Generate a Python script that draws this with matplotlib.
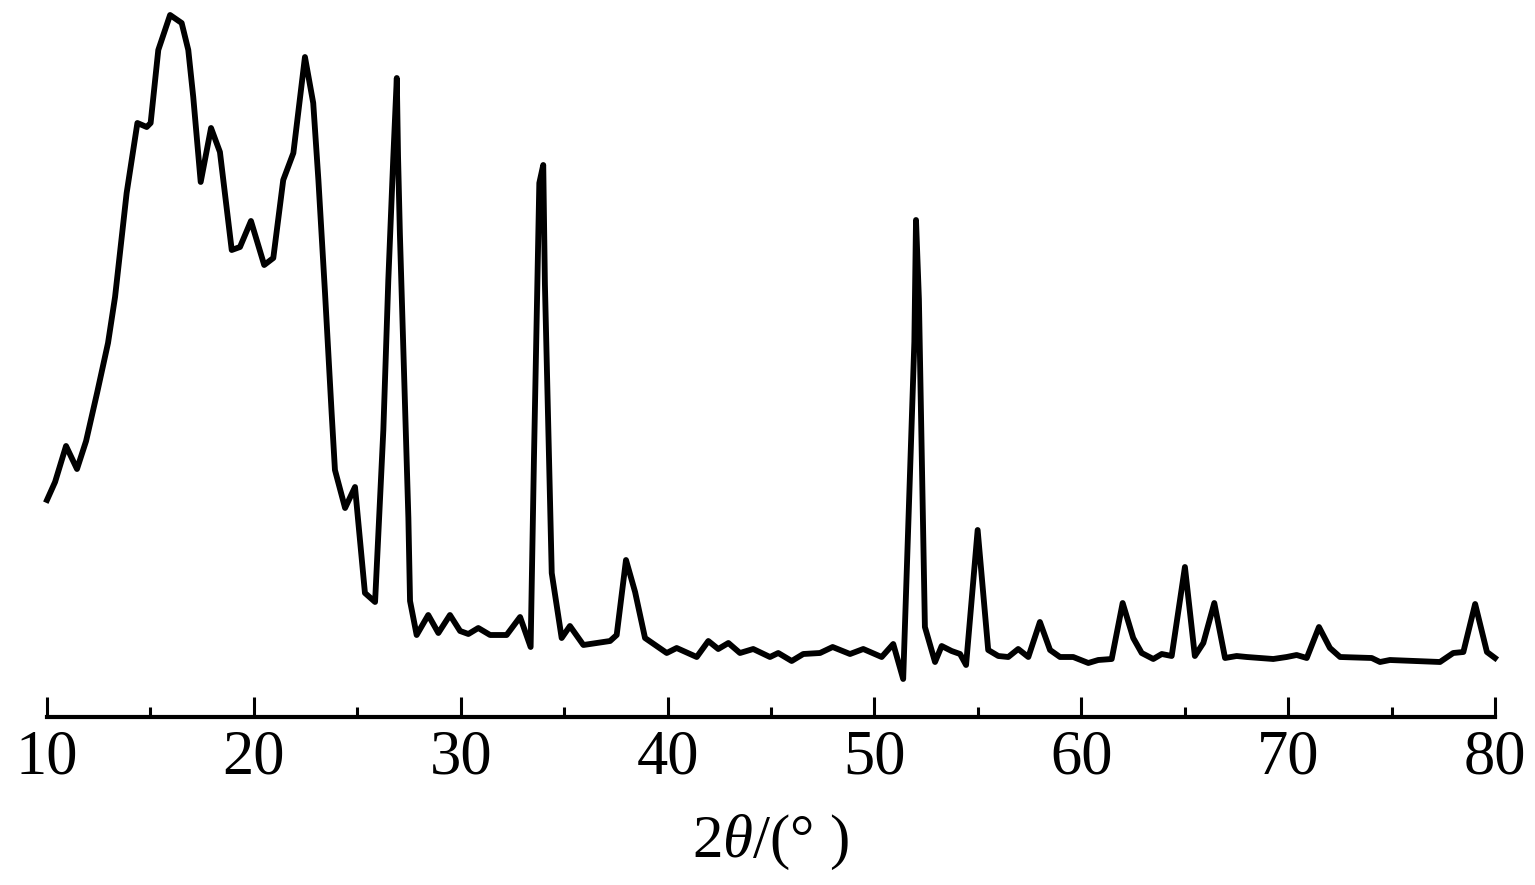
import matplotlib
matplotlib.use("Agg")
import matplotlib.pyplot as plt

two_theta = [10.00, 10.39, 10.92, 11.45, 11.89, 12.42, 12.95, 13.29, 13.85, 14.37, 14.82, 15.01,
             15.38, 15.95, 16.51, 16.83, 17.07, 17.43, 17.93, 18.36, 18.93, 19.33, 19.86, 20.50,
             20.94, 21.42, 21.91, 22.47, 22.87, 23.12, 23.44, 23.76, 23.92, 24.41, 24.89, 25.37,
             25.86, 26.26, 26.50, 26.74, 26.91, 26.97, 27.06, 27.47, 27.55, 27.87, 28.43, 28.92,
             29.48, 29.97, 30.37, 30.85, 31.42, 32.22, 32.87, 33.38, 33.54, 33.80, 33.99, 34.07,
             34.40, 34.88, 35.28, 35.93, 36.57, 37.22, 37.54, 37.99, 38.43, 38.91, 39.96, 40.44,
             41.41, 41.97, 42.45, 42.94, 43.50, 44.14, 44.95, 45.35, 46.00, 46.56, 47.37, 47.98,
             48.82, 49.46, 50.35, 50.91, 51.39, 51.93, 52.01, 52.15, 52.44, 52.93, 53.25, 53.73,
             54.14, 54.43, 54.99, 55.50, 55.99, 56.47, 56.95, 57.44, 58.00, 58.49, 58.97, 59.61,
             60.34, 60.82, 61.47, 62.00, 62.51, 62.92, 63.48, 63.89, 64.37, 65.01, 65.49, 65.90,
             66.43, 66.95, 67.51, 68.00, 69.28, 69.93, 70.41, 70.90, 71.49, 72.02, 72.51, 74.04,
             74.44, 74.92, 77.34, 77.98, 78.47, 79.04, 79.61, 80.00]
intensity = [217, 235, 271, 248, 276, 324, 374, 420, 524, 594, 590, 594,
             667, 702, 694, 667, 620, 535, 589, 565, 467, 470, 496, 452,
             459, 537, 564, 660, 614, 537, 424, 304, 247, 209, 230, 124,
             115, 287, 437, 559, 639, 561, 483, 199, 116, 82, 102, 84,
             102, 86, 83, 89, 82, 82, 100, 70, 258, 534, 552, 433,
             144, 79, 91, 72, 74, 76, 82, 157, 125, 79, 64, 69,
             60, 76, 68, 74, 64, 68, 60, 64, 56, 63, 64, 70,
             63, 68, 60, 73, 38, 375, 497, 418, 90, 55, 71, 66,
             63, 52, 187, 67, 61, 60, 68, 60, 95, 67, 60, 60,
             54, 57, 58, 114, 79, 64, 58, 63, 61, 150, 61, 74,
             114, 59, 61, 60, 58, 60, 62, 59, 90, 69, 60, 59,
             55, 57, 55, 64, 65, 113, 65, 59]

major_ticks = [10, 20, 30, 40, 50, 60, 70, 80]
minor_ticks = [15, 25, 35, 45, 55, 65, 75]

plt.rcParams['mathtext.fontset'] = 'custom'
plt.rcParams['mathtext.rm'] = 'Liberation Serif'
plt.rcParams['mathtext.it'] = 'Liberation Serif:italic'

fig = plt.figure(figsize=(15.35, 8.85), dpi=100)
ax = fig.add_axes([47/1535, 168/885, 1448/1535, 717/885])
ax.plot(two_theta, intensity, color='black', linewidth=4.2, solid_joinstyle='round', clip_on=False)
ax.set_xlim(10, 80)
ax.set_ylim(0, 717)
for s in ['left', 'right', 'top']:
    ax.spines[s].set_visible(False)
ax.spines['bottom'].set_linewidth(3.0)
ax.set_yticks([])
ax.set_xticks(major_ticks)
ax.set_xticks(minor_ticks, minor=True)
ax.tick_params(axis='x', which='major', direction='in', length=14.5, width=2.2, pad=9)
ax.tick_params(axis='x', which='minor', direction='in', length=7, width=2.2)
ax.set_xticklabels([str(t) for t in major_ticks], fontfamily='Liberation Serif', fontsize=45)
ax.set_xlabel(r'2$\mathit{\theta}$/(° )', fontfamily='Liberation Serif', fontsize=44, labelpad=18)
fig.savefig('out.png', dpi=100)
